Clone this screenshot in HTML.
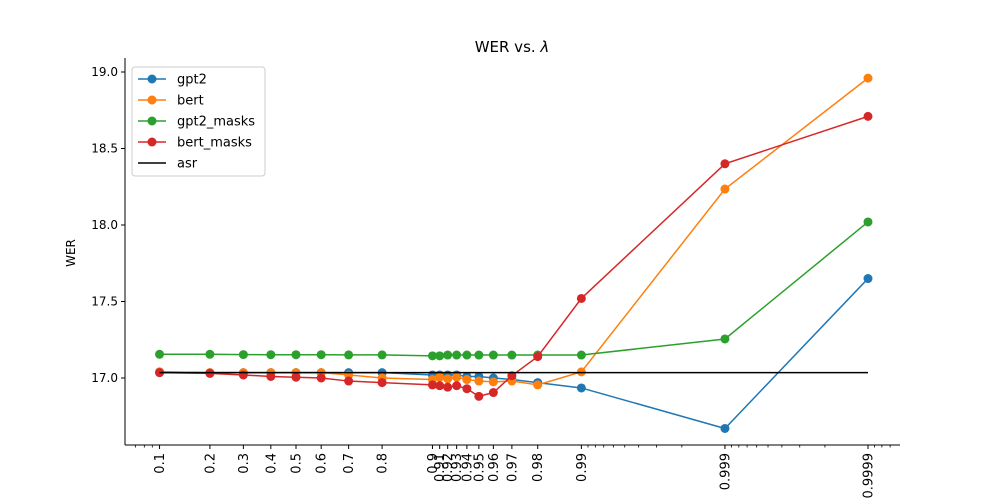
<!DOCTYPE html>
<html><head><meta charset="utf-8"><style>
body{margin:0;background:#fff;}
svg{display:block;font-family:"DejaVu Sans","Liberation Sans",sans-serif;}
</style></head><body>
<svg id="chart" width="1000" height="500"></svg>
<script>
const lambdas=[0.1,0.2,0.3,0.4,0.5,0.6,0.7,0.8,0.9,0.91,0.92,0.93,0.94,0.95,0.96,0.97,0.98,0.99,0.999,0.9999];
const tickLabels=["0.1","0.2","0.3","0.4","0.5","0.6","0.7","0.8","0.9","0.91","0.92","0.93","0.94","0.95","0.96","0.97","0.98","0.99","0.999","0.9999"];
const gpt2=[17.04,17.035,17.035,17.035,17.035,17.035,17.035,17.035,17.02,17.02,17.02,17.02,17.01,17.01,17.0,16.99,16.97,16.935,16.67,17.65];
const bert=[17.04,17.035,17.035,17.035,17.035,17.035,17.02,17.0,16.99,17.005,16.995,17.005,16.99,16.98,16.975,16.98,16.955,17.04,18.235,18.96];
const gpt2Masks=[17.155,17.155,17.153,17.152,17.152,17.152,17.151,17.151,17.145,17.145,17.15,17.15,17.15,17.15,17.15,17.15,17.15,17.15,17.255,18.02];
const bertMasks=[17.035,17.03,17.02,17.01,17.005,17.0,16.98,16.97,16.955,16.95,16.94,16.95,16.93,16.88,16.905,17.015,17.14,17.52,18.4,18.71];
const asr=17.035;
const yTicks=[17.0,17.5,18.0,18.5,19.0];
const seriesNames=["gpt2","bert","gpt2_masks","bert_masks"];
const colors=["#1f77b4","#ff7f0e","#2ca02c","#d62728"];

const NS="http://www.w3.org/2000/svg";
const svg=document.getElementById('chart');
function X(p){return 296+143*Math.log10(p/(1-p));}
function Y(v){return 378-(v-17)*153;}
function el(t,a,txt){const e=document.createElementNS(NS,t);for(const k in a)e.setAttribute(k,a[k]);if(txt!==undefined)e.textContent=txt;svg.appendChild(e);return e;}

let e;
e=el('text',{x:512,y:52,'text-anchor':'middle','font-size':15},'WER vs. ');


const ts=document.createElementNS(NS,'tspan');ts.setAttribute('font-style','italic');ts.textContent='λ';e.appendChild(ts);

e=el('line',{x1:125,y1:58,x2:125,y2:445,stroke:'#000','stroke-width':1});


e=el('line',{x1:125,y1:445,x2:900,y2:445,stroke:'#000','stroke-width':1});



yTicks.forEach(v=>{
  el('line',{x1:121,y1:Y(v),x2:125,y2:Y(v),stroke:'#000'});
  e=el('text',{x:118,y:Y(v)+4,'text-anchor':'end','font-size':12},v.toFixed(1));
  
  
});
e=el('text',{x:75,y:253,'text-anchor':'middle','font-size':12,transform:'rotate(-90 75 253)'},'WER');



const minors=[0.07,0.08,0.09];
for(let i=1;i<=9;i++){minors.push(0.99+i*0.001);minors.push(0.999+i*0.0001);}
[0.99991,0.99992,0.99993].forEach(m=>minors.push(m));
minors.forEach(m=>{const x=X(m);if(x>125&&x<900)el('line',{x1:x,y1:445,x2:x,y2:447.5,stroke:'#000','stroke-width':0.8});});

lambdas.forEach((p,i)=>{
  const x=X(p);
  el('line',{x1:x,y1:445,x2:x,y2:449,stroke:'#000'});
  e=el('text',{x:x+4.5,y:453,'text-anchor':'end','font-size':13,transform:`rotate(-90 ${x+4.5} 453)`},tickLabels[i]);
  
  
});

[gpt2,bert,gpt2Masks,bertMasks].forEach((s,si)=>{
  const pts=s.map((v,i)=>X(lambdas[i])+','+Y(v)).join(' ');
  e=el('polyline',{points:pts,fill:'none',stroke:colors[si],'stroke-width':1.5});
  
  
  s.forEach((v,i)=>{
    e=el('circle',{cx:X(lambdas[i]),cy:Y(v),r:4.5,fill:colors[si]});
    
    
  });
});
e=el('line',{x1:X(lambdas[0]),y1:Y(asr),x2:X(lambdas[lambdas.length-1]),y2:Y(asr),stroke:'#000','stroke-width':1.5});



e=el('rect',{x:132,y:67,width:133,height:109,fill:'#fff',stroke:'#ccc',rx:3});


const legNames=["gpt2","bert","gpt2_masks","bert_masks","asr"];
const legColors=colors.concat(['#000']);
legNames.forEach((n,i)=>{
  const y=79+i*21;
  el('line',{x1:138,y1:y,x2:166,y2:y,stroke:legColors[i],'stroke-width':1.5});
  if(i<4)el('circle',{cx:152,cy:y,r:4.5,fill:legColors[i]});
  e=el('text',{x:177,y:y+4.5,'font-size':13},n);
  
  
});
</script>
</body></html>
